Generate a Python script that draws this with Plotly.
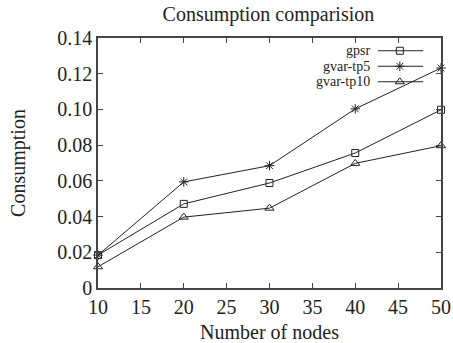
import plotly.graph_objects as go

nodes = [10, 20, 30, 40, 50]
gpsr = [0.0184, 0.0471, 0.0588, 0.0756, 0.0998]
gvar_tp5 = [0.0184, 0.0594, 0.0685, 0.1003, 0.1232]
gvar_tp10 = [0.0119, 0.0397, 0.0447, 0.0698, 0.0797]

series_names = ["gpsr", "gvar-tp5", "gvar-tp10"]
series_vals = [gpsr, gvar_tp5, gvar_tp10]
symbols = ["square-open", "asterisk-open", "triangle-up-open"]
sizes = [7, 8, 8]

x_ticks = [10, 15, 20, 25, 30, 35, 40, 45, 50]
y_ticks = [0, 0.02, 0.04, 0.06, 0.08, 0.10, 0.12, 0.14]
y_ticktext = ["0", "0.02", "0.04", "0.06", "0.08", "0.10", "0.12", "0.14"]

FONT = "Liberation Serif"
INK = "#222222"
FRAME = "#444444"

fig = go.Figure()
for name, vals, sym, sz in zip(series_names, series_vals, symbols, sizes):
    fig.add_trace(go.Scatter(
        x=nodes, y=vals, name=name, mode="lines+markers",
        line=dict(color=INK, width=1),
        marker=dict(symbol=sym, size=sz, color=INK, line=dict(color=INK, width=1)),
        showlegend=False, cliponaxis=False,
    ))

# manual legend (text left, key right) in plot-fraction coordinates
leg_text_x = 0.795
leg_x0, leg_xm, leg_x1 = 0.816, 0.880, 0.948
leg_rows = [0.949, 0.887, 0.825]
for name, sym, sz, yy in zip(series_names, symbols, sizes, leg_rows):
    fig.add_annotation(x=leg_text_x, y=yy, xref="paper", yref="paper",
                       text=name, showarrow=False, xanchor="right", yanchor="middle",
                       borderpad=0,
                       font=dict(family=FONT, size=14, color=INK))
    fig.add_shape(type="line", xref="paper", yref="paper",
                  x0=leg_x0, x1=leg_x1, y0=yy, y1=yy,
                  line=dict(color=INK, width=1))
    fig.add_trace(go.Scatter(
        x=[leg_xm], y=[yy], mode="markers", xaxis="x2", yaxis="y2",
        marker=dict(symbol=sym, size=sz, color=INK, line=dict(color=INK, width=1)),
        showlegend=False, hoverinfo="skip",
    ))

fig.update_layout(
    width=453, height=343, autosize=False,
    margin=dict(l=98, r=12, t=38, b=55),
    paper_bgcolor="white", plot_bgcolor="white",
    font=dict(family=FONT, size=20, color=INK),
    title=dict(text="Consumption comparision", x=0.5925, xanchor="center",
               y=0.96, yanchor="middle", font=dict(family=FONT, size=20, color=INK)),
    xaxis=dict(range=[10, 50], tickvals=x_ticks, showgrid=False, zeroline=False,
               showline=True, linecolor=FRAME, linewidth=1.5, mirror="allticks",
               ticks="inside", ticklen=5, tickcolor=FRAME, tickwidth=1, automargin=False,
               title=dict(text="Number of nodes", standoff=10,
                          font=dict(family=FONT, size=20, color=INK)),
               tickfont=dict(family=FONT, size=20, color=INK)),
    yaxis=dict(range=[0, 0.14], tickvals=y_ticks, ticktext=y_ticktext, showgrid=False,
               zeroline=False, showline=True, linecolor=FRAME, linewidth=1.5,
               mirror="allticks", ticks="inside", ticklen=5, tickcolor=FRAME, tickwidth=1,
               automargin=False,
               title=dict(text="Consumption", standoff=26,
                          font=dict(family=FONT, size=20, color=INK)),
               tickfont=dict(family=FONT, size=20, color=INK)),
    xaxis2=dict(range=[0, 1], overlaying="x", visible=False, domain=[0, 1]),
    yaxis2=dict(range=[0, 1], overlaying="y", visible=False, domain=[0, 1]),
)

fig.write_html("out.html")
